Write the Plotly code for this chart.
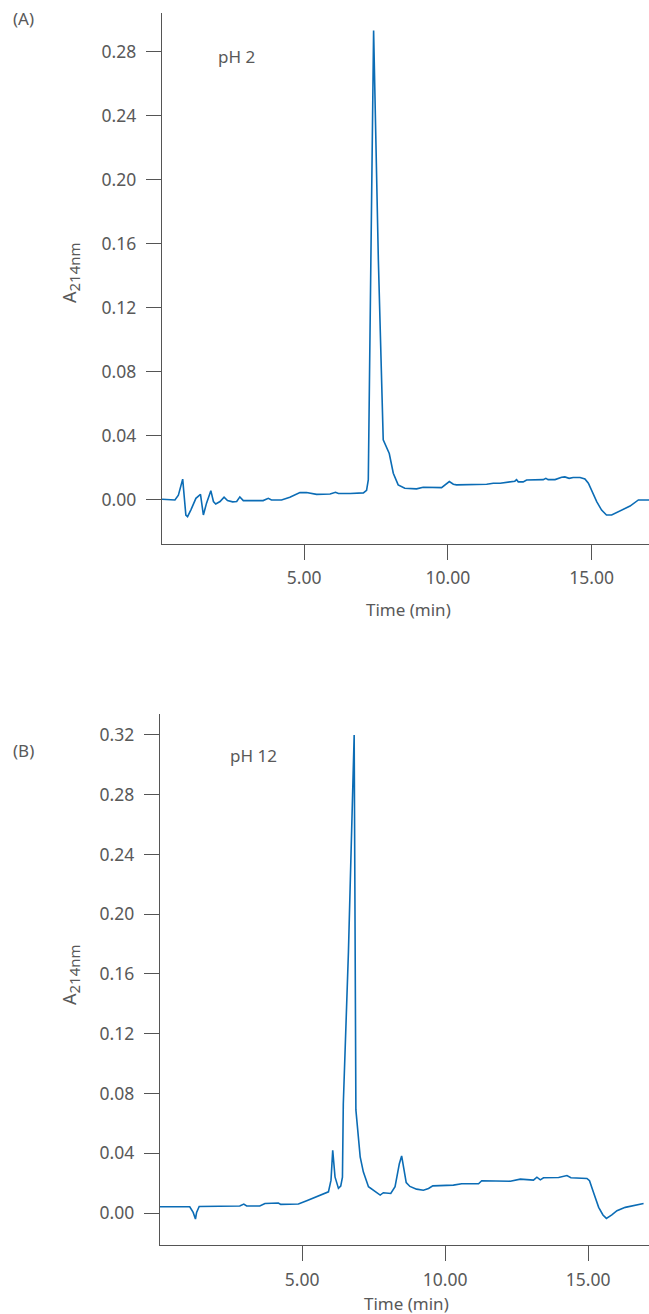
import plotly.graph_objects as go

# ---- Data ----
time_A = [0.05, 0.50, 0.62, 0.77, 0.88, 0.94, 1.06, 1.23, 1.39, 1.49, 1.60, 1.75, 1.84, 1.92,
          2.07, 2.21, 2.33, 2.51, 2.65, 2.76, 2.88, 3.57, 3.75, 3.86, 4.21, 4.50, 4.85, 5.08,
          5.43, 5.90, 6.09, 6.19, 6.60, 7.06, 7.17, 7.23, 7.32, 7.415, 7.58, 7.75, 7.96, 8.10,
          8.27, 8.50, 8.91, 9.14, 9.78, 9.90, 10.05, 10.19, 10.30, 11.35, 11.58, 11.82, 12.33,
          12.39, 12.45, 12.62, 12.74, 13.32, 13.41, 13.49, 13.73, 13.96, 14.07, 14.22, 14.36,
          14.60, 14.77, 14.89, 15.06, 15.18, 15.35, 15.52, 15.70, 15.87, 16.34, 16.63, 17.0]
abs_A = [0.0004, 0.0, 0.003, 0.013, -0.0094, -0.0104, -0.006, 0.001, 0.0035, -0.0094, -0.002,
         0.0058, -0.001, -0.0025, -0.001, 0.0017, -0.0004, -0.0012, -0.001, 0.0019, -0.0004,
         -0.0004, 0.001, 0.0, 0.0, 0.0017, 0.0046, 0.0046, 0.0035, 0.0037, 0.0048, 0.004,
         0.004, 0.0044, 0.006, 0.0125, 0.15, 0.293, 0.15, 0.0375, 0.029, 0.0167, 0.0094,
         0.0073, 0.0069, 0.0079, 0.0077, 0.0092, 0.0115, 0.0098, 0.0094, 0.0098, 0.0104,
         0.0104, 0.0117, 0.0127, 0.0113, 0.0113, 0.0125, 0.0127, 0.0135, 0.0127, 0.0127,
         0.0142, 0.0144, 0.0135, 0.014, 0.014, 0.0131, 0.0104, 0.0031, -0.001, -0.0063,
         -0.0094, -0.0094, -0.0079, -0.0038, 0.0, 0.0]

time_B = [0.03, 1.07, 1.19, 1.27, 1.31, 1.40, 2.82, 2.96, 3.06, 3.52, 3.70, 4.17, 4.25, 4.87,
          5.16, 5.51, 5.92, 6.01, 6.07, 6.15, 6.27, 6.35, 6.41, 6.44, 6.50, 6.62, 6.82, 6.84,
          6.88, 7.03, 7.14, 7.32, 7.55, 7.73, 7.84, 8.10, 8.25, 8.40, 8.48, 8.64, 8.77, 9.00,
          9.24, 9.42, 9.57, 10.29, 10.58, 11.17, 11.28, 12.28, 12.63, 13.09, 13.21, 13.33,
          13.44, 13.97, 14.26, 14.40, 14.96, 15.05, 15.19, 15.37, 15.52, 15.64, 15.83, 16.01,
          16.30, 16.59, 16.94]
abs_B = [0.0042, 0.0042, 0.0004, -0.004, 0.0004, 0.0044, 0.0047, 0.006, 0.0047, 0.0047,
         0.0064, 0.0067, 0.0058, 0.006, 0.0082, 0.011, 0.0142, 0.022, 0.042, 0.0242, 0.0165,
         0.018, 0.024, 0.073, 0.109, 0.175, 0.32, 0.175, 0.069, 0.0376, 0.0276, 0.0176,
         0.0142, 0.012, 0.0136, 0.0131, 0.0176, 0.033, 0.0382, 0.0204, 0.0178, 0.016, 0.0153,
         0.0164, 0.0182, 0.0187, 0.0196, 0.0196, 0.0216, 0.0213, 0.0227, 0.022, 0.024, 0.0222,
         0.0236, 0.0238, 0.0251, 0.0236, 0.0231, 0.0216, 0.0138, 0.0038, -0.0013, -0.0036,
         -0.0013, 0.0016, 0.0038, 0.0049, 0.0064]

x_ticks = [5, 10, 15]
y_ticks_A = [0.00, 0.04, 0.08, 0.12, 0.16, 0.20, 0.24, 0.28]
y_ticks_B = [0.00, 0.04, 0.08, 0.12, 0.16, 0.20, 0.24, 0.28, 0.32]

# ---- Styling ----
W, H = 649, 1314
FONT = "Noto Sans"
TXT = "#595959"
AX = "#555555"
LINE = "#0b6cb5"


def px(x):
    return x / W


def py(y):
    return 1 - y / H


fig = go.Figure()
fig.add_trace(go.Scatter(x=time_A, y=abs_A, mode="lines",
                         line=dict(color=LINE, width=1.6), xaxis="x", yaxis="y",
                         showlegend=False, hoverinfo="skip"))
fig.add_trace(go.Scatter(x=time_B, y=abs_B, mode="lines",
                         line=dict(color=LINE, width=1.6), xaxis="x2", yaxis="y2",
                         showlegend=False, hoverinfo="skip"))

common_axis = dict(showgrid=False, zeroline=False, showline=True, linecolor=AX,
                   linewidth=1.3, ticks="outside", ticklen=15, tickwidth=1.3,
                   tickcolor=AX, tickfont=dict(family=FONT, size=17.5, color=TXT),
                   tickformat=".2f", tickmode="array")

fig.update_layout(
    width=W, height=H,
    margin=dict(l=0, r=0, t=0, b=0),
    paper_bgcolor="white", plot_bgcolor="white",
    font=dict(family=FONT, color=TXT, size=17),
    xaxis=dict(common_axis, domain=[px(162), 1], range=[0.05, 17.0],
               tickvals=x_ticks, anchor="y", ticklabelstandoff=3),
    yaxis=dict(common_axis, domain=[py(544), py(13)], range=[-0.0275, 0.304],
               tickvals=y_ticks_A, anchor="x", ticklabelstandoff=6),
    xaxis2=dict(common_axis, domain=[px(160), 1], range=[0.03, 17.13],
                tickvals=x_ticks, anchor="y2", ticklabelstandoff=4),
    yaxis2=dict(common_axis, domain=[py(1245), py(714)], range=[-0.0214, 0.334],
                tickvals=y_ticks_B, anchor="x2", ticklabelstandoff=6),
)

ann = []
def note(text, x, y, size=17, angle=0):
    ann.append(dict(text=text, x=px(x), y=py(y), xref="paper", yref="paper",
                    showarrow=False, xanchor="center", yanchor="middle",
                    textangle=angle, font=dict(family=FONT, size=size, color=TXT)))

note("(A)", 23, 18)
note("(B)", 23, 750)
note("pH 2", 236, 56)
note("pH 12", 253, 755)
note("Time (min)", 408, 609)
note("Time (min)", 406, 1303)
ytitle = "A<sub><span style='font-size:15px'>214nm</span></sub>"
note(ytitle, 70, 273, size=18, angle=-90)
note(ytitle, 70, 975, size=18, angle=-90)
fig.update_layout(annotations=ann)

fig.write_html("out.html",
               config={"displayModeBar": False},
               post_script="document.body.style.margin='0';"
                           "document.body.style.overflow='hidden';")
